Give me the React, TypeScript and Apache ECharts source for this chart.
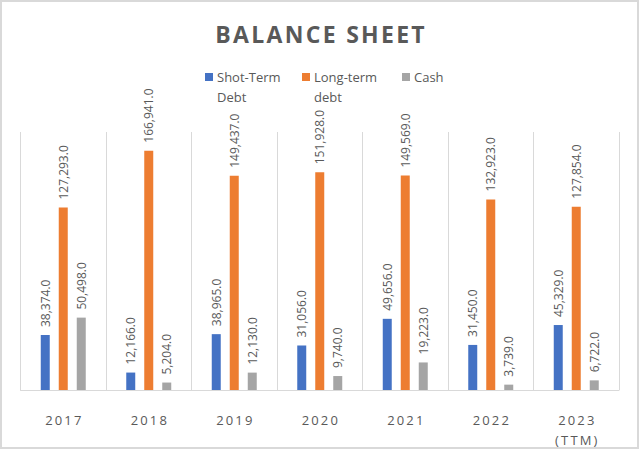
import React, { useEffect, useRef } from "react";
import * as echarts from "echarts";

const categories = ["2017", "2018", "2019", "2020", "2021", "2022", "2023\n(TTM)"];
const seriesNames = ["Shot-Term Debt", "Long-term debt", "Cash"];
const shortTermDebt = [38374, 12166, 38965, 31056, 49656, 31450, 45329];
const longTermDebt = [127293, 166941, 149437, 151928, 149569, 132923, 127854];
const cash = [50498, 5204, 12130, 9740, 19223, 3739, 6722];
const colors = ["#4472C4", "#ED7D31", "#A5A5A5"];
const legendLines = [["Shot-Term", "Debt"], ["Long-term", "debt"], ["Cash"]];
const legendX = [205, 302, 402];

const FONT = "'Open Sans', 'Noto Sans', sans-serif";
const TEXT = "#595959";

export default function App() {
  const ref = useRef<HTMLDivElement>(null);
  useEffect(() => {
    document.body.style.margin = "0";
    const chart = echarts.init(ref.current!, null, { renderer: "svg" });
    const fmt = (p: any) =>
      Number(p.value).toLocaleString("en-US", { minimumFractionDigits: 1, maximumFractionDigits: 1 });
    const spaced = (s: string) =>
      s
        .split("\n")
        .map((line) => line.split("").join("\u2009"))
        .join("\n");
    const dataSets = [shortTermDebt, longTermDebt, cash];
    const legendGraphics: any[] = [];
    legendLines.forEach((lines, i) => {
      legendGraphics.push({
        type: "rect",
        shape: { x: legendX[i], y: 73, width: 8, height: 8 },
        style: { fill: colors[i] },
      });
      lines.forEach((ln, j) => {
        legendGraphics.push({
          type: "text",
          x: legendX[i] + 12,
          y: 77 + j * 20,
          style: {
            text: ln,
            fill: TEXT,
            font: `13px ${FONT}`,
            textVerticalAlign: "middle",
            textAlign: "left",
          },
        });
      });
    });
    chart.setOption({
      animation: false,
      backgroundColor: "#ffffff",
      title: {
        text: "BALANCE SHEET".split("").join("\u200A"),
        left: "center",
        top: 17,
        textStyle: { color: TEXT, fontSize: 23, fontWeight: "bold", fontFamily: FONT },
      },
      graphic: [
        {
          type: "rect",
          shape: { x: 1, y: 1, width: 637, height: 447 },
          style: { fill: "none", stroke: "#d9d9d9", lineWidth: 2 },
        },
        ...legendGraphics,
      ],
      grid: { left: 20.5, right: 21, top: 132, bottom: 57 },
      xAxis: {
        type: "category",
        data: categories,
        axisLine: { lineStyle: { color: "#d9d9d9", width: 1 } },
        axisTick: { show: false },
        splitLine: { show: true, lineStyle: { color: "#d9d9d9", width: 1 } },
        axisLabel: {
          color: TEXT,
          fontSize: 13,
          fontFamily: FONT,
          margin: 20,
          lineHeight: 20,
          interval: 0,
          formatter: (v: string) => spaced(v),
        },
      },
      yAxis: {
        type: "value",
        min: 0,
        max: 180000,
        show: false,
        splitLine: { show: false },
      },
      series: dataSets.map((d, i) => ({
        name: seriesNames[i],
        type: "bar",
        data: d,
        barWidth: 9,
        barGap: "100%",
        itemStyle: { color: colors[i] },
        label: {
          show: true,
          position: "top",
          rotate: 90,
          align: "left",
          verticalAlign: "middle",
          distance: 8,
          color: TEXT,
          fontSize: 12,
          fontFamily: FONT,
          formatter: fmt,
        },
      })),
    });
    return () => chart.dispose();
  }, []);
  return <div ref={ref} style={{ width: 640, height: 450 }} />;
}
